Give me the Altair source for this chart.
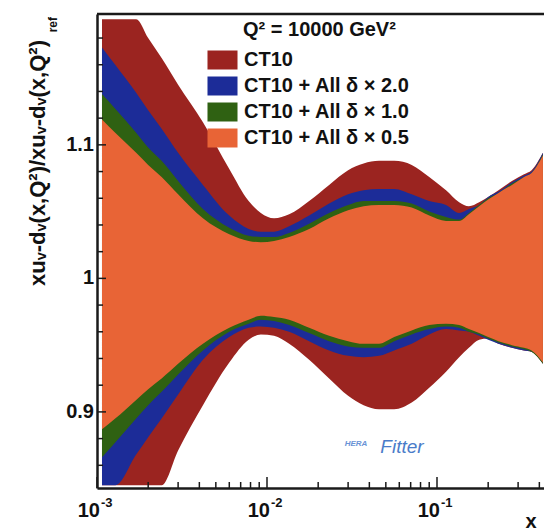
import altair as alt
import pandas as pd

# x positions (log scale) at which the band edges were read
x_vals = [0.00107, 0.00128, 0.0017, 0.002, 0.0024, 0.003, 0.0042, 0.006, 0.0078, 0.0092,
          0.011, 0.0135, 0.0177, 0.0232, 0.030, 0.037, 0.0456, 0.056, 0.071, 0.090,
          0.113, 0.135, 0.154, 0.177, 0.200, 0.230, 0.276, 0.325, 0.360, 0.420]

band_names = ["CT10", "CT10 + All \u03b4 \u00d7 2.0", "CT10 + All \u03b4 \u00d7 1.0", "CT10 + All \u03b4 \u00d7 0.5"]
band_colors = ["#9b2420", "#1c2c98", "#2f6112", "#e86436"]

ct10_hi = [1.194, 1.194, 1.194, 1.180, 1.165, 1.145, 1.117, 1.082, 1.058, 1.049,
           1.045, 1.048, 1.058, 1.070, 1.081, 1.086, 1.088, 1.088, 1.085, 1.076,
           1.066, 1.057, 1.054, 1.057, 1.061, 1.066, 1.073, 1.078, 1.081, 1.094]
ct10_lo = [0.845, 0.845, 0.845, 0.845, 0.845, 0.871, 0.905, 0.937, 0.954, 0.958,
           0.957, 0.951, 0.939, 0.925, 0.912, 0.905, 0.902, 0.902, 0.907, 0.918,
           0.930, 0.941, 0.948, 0.954, 0.955, 0.951, 0.948, 0.946, 0.945, 0.936]
d20_hi = [1.173, 1.160, 1.139, 1.126, 1.112, 1.094, 1.070, 1.047, 1.037, 1.035,
          1.035, 1.039, 1.047, 1.056, 1.063, 1.066, 1.067, 1.067, 1.063, 1.058,
          1.055, 1.049, 1.052, 1.055, 1.061, 1.065, 1.072, 1.077, 1.080, 1.094]
d20_lo = [0.845, 0.845, 0.868, 0.881, 0.895, 0.913, 0.939, 0.956, 0.963, 0.964,
          0.963, 0.960, 0.953, 0.946, 0.942, 0.941, 0.942, 0.946, 0.951, 0.958,
          0.962, 0.961, 0.960, 0.957, 0.954, 0.951, 0.948, 0.946, 0.945, 0.936]
d10_hi = [1.138, 1.127, 1.109, 1.098, 1.088, 1.073, 1.052, 1.038, 1.032, 1.031,
          1.031, 1.034, 1.041, 1.049, 1.055, 1.058, 1.058, 1.058, 1.056, 1.050,
          1.046, 1.044, 1.049, 1.055, 1.060, 1.064, 1.071, 1.076, 1.079, 1.093]
d10_lo = [0.866, 0.877, 0.895, 0.905, 0.915, 0.928, 0.946, 0.960, 0.966, 0.969,
          0.968, 0.965, 0.959, 0.953, 0.949, 0.948, 0.948, 0.953, 0.958, 0.962,
          0.964, 0.963, 0.960, 0.958, 0.955, 0.952, 0.949, 0.947, 0.945, 0.936]
d05_hi = [1.119, 1.109, 1.094, 1.085, 1.076, 1.063, 1.045, 1.033, 1.028, 1.027,
          1.028, 1.031, 1.037, 1.045, 1.051, 1.054, 1.055, 1.055, 1.053, 1.047,
          1.043, 1.043, 1.048, 1.054, 1.059, 1.064, 1.070, 1.076, 1.079, 1.092]
d05_lo = [0.887, 0.895, 0.909, 0.917, 0.925, 0.936, 0.951, 0.963, 0.969, 0.972,
          0.971, 0.969, 0.963, 0.957, 0.953, 0.951, 0.951, 0.956, 0.961, 0.965,
          0.966, 0.965, 0.962, 0.959, 0.956, 0.953, 0.950, 0.948, 0.946, 0.937]

x_major = [0.001, 0.01, 0.1]
x_major_base = ["10", "10", "10"]
x_major_exp = ["-3", "-2", "-1"]
x_minor = [0.002, 0.003, 0.004, 0.005, 0.006, 0.007, 0.008, 0.009,
           0.02, 0.03, 0.04, 0.05, 0.06, 0.07, 0.08, 0.09,
           0.2, 0.3, 0.4]
y_major = [0.9, 1.0, 1.1]
y_major_labels = ["0.9", "1", "1.1"]
y_minor = [0.86, 0.88, 0.92, 0.94, 0.96, 0.98, 1.02, 1.04, 1.06, 1.08, 1.12, 1.14, 1.16, 1.18]

his = [ct10_hi, d20_hi, d10_hi, d05_hi]
los = [ct10_lo, d20_lo, d10_lo, d05_lo]
rows = []
for name, lo, hi in zip(band_names, los, his):
    for xv, l, h in zip(x_vals, lo, hi):
        rows.append({"band": name, "x": xv, "lo": l, "hi": h})
df = pd.DataFrame(rows)

W, H = 447, 474
FONT = "Liberation Sans"
AX = "#1a1a1a"

xscale = alt.Scale(type="log", domain=[0.001, 0.426], nice=False)
yscale = alt.Scale(domain=[0.843, 1.198], nice=False, zero=False)
cscale = alt.Scale(domain=band_names, range=band_colors)

# axes used only for the frame lines (left and bottom)
xaxis = alt.Axis(ticks=False, grid=False, labels=False, title=None,
                 domainColor=AX, domainWidth=2.5)
yaxis = alt.Axis(ticks=False, grid=False, labels=False, title=None,
                 domainColor=AX, domainWidth=2.5)

legend = alt.Legend(title=None, orient="none", legendX=115.5, legendY=36,
                    symbolType="M-1.58,-1L1.58,-1L1.58,1L-1.58,1Z", symbolSize=361,
                    symbolStrokeWidth=0, symbolOpacity=1, labelFont=FONT, labelFontSize=20,
                    labelFontWeight="bold", labelColor="#111", labelOffset=11.5, labelLimit=400,
                    rowPadding=6, padding=0)

layers = []
for name in band_names:
    layers.append(
        alt.Chart(df).transform_filter(alt.datum.band == name)
        .mark_area(interpolate="monotone", clip=True, opacity=1)
        .encode(
            x=alt.X("x:Q", scale=xscale, axis=xaxis),
            y=alt.Y("lo:Q", scale=yscale, axis=yaxis),
            y2="hi:Q",
            color=alt.Color("band:N", scale=cscale, legend=legend),
        )
    )

one = pd.DataFrame({"a": [0]})
layers.append(alt.Chart(one).mark_rule(color=AX, strokeWidth=2.5).encode(
    x=alt.value(0), x2=alt.value(W), y=alt.value(0)))

# inward ticks
def xticks(vals, length):
    return alt.Chart(pd.DataFrame({"t": vals})).mark_rule(color=AX, strokeWidth=1.5).encode(
        x=alt.X("t:Q", scale=xscale, axis=xaxis), y=alt.value(H), y2=alt.value(H - length))

def yticks(vals, length):
    return alt.Chart(pd.DataFrame({"t": vals})).mark_rule(color=AX, strokeWidth=1.5).encode(
        y=alt.Y("t:Q", scale=yscale, axis=yaxis), x=alt.value(0), x2=alt.value(length))

layers += [xticks(x_major, 11), xticks(x_minor, 6), yticks(y_major, 9), yticks(y_minor, 6)]

# tick labels
xlab = pd.DataFrame({"t": x_major, "base": x_major_base, "exp": x_major_exp})
layers.append(
    alt.Chart(xlab)
    .mark_text(font=FONT, fontSize=20, fontWeight="bold", color="#111", align="right",
               baseline="top", dx=3)
    .encode(x=alt.X("t:Q", scale=xscale, axis=xaxis), y=alt.value(H + 13), text="base:N")
)
layers.append(
    alt.Chart(xlab)
    .mark_text(font=FONT, fontSize=13, fontWeight="bold", color="#111", align="left",
               baseline="top", dx=4)
    .encode(x=alt.X("t:Q", scale=xscale, axis=xaxis), y=alt.value(H + 9), text="exp:N")
)
layers.append(
    alt.Chart(pd.DataFrame({"t": y_major, "lab": y_major_labels}))
    .mark_text(font=FONT, fontSize=20, fontWeight="bold", color="#111", align="right", baseline="middle")
    .encode(y=alt.Y("t:Q", scale=yscale, axis=yaxis), x=alt.value(-3), text="lab:N")
)

def label(text, x, y, size, align="left", angle=0, weight="bold", color="#111", baseline="middle", style="normal"):
    return alt.Chart(pd.DataFrame({"t": [text]})).mark_text(
        font=FONT, fontSize=size, fontWeight=weight, color=color, align=align,
        baseline=baseline, angle=angle, fontStyle=style).encode(
        text="t:N", x=alt.value(x), y=alt.value(y))

layers.append(label("Q\u00b2 = 10000 GeV\u00b2", 146, 16, 20))
layers.append(label("xu\u1d65-d\u1d65(x,Q\u00b2)/xu\u1d65-d\u1d65(x,Q\u00b2)", -52, 26, 22,
                    align="right", angle=270, baseline="alphabetic"))
layers.append(label("ref", -40, 3, 12, align="right", angle=270, baseline="alphabetic"))
layers.append(label("x", 434, 514, 20, align="center", baseline="alphabetic"))
layers.append(label("HERA", 259, 430, 8, align="center", weight="bold", color="#6a93d6", style="italic"))
layers.append(label("Fitter", 305, 433, 19, align="center", weight="normal", color="#4a7cc9", style="italic"))

chart = alt.layer(*layers).properties(
    width=W, height=H,
    padding={"left": 97, "top": 14, "right": 0, "bottom": 44},
    autosize="none",
).configure_view(stroke=None).configure(background="white")

chart.save("out.html", embed_options={"renderer": "svg", "actions": False})
